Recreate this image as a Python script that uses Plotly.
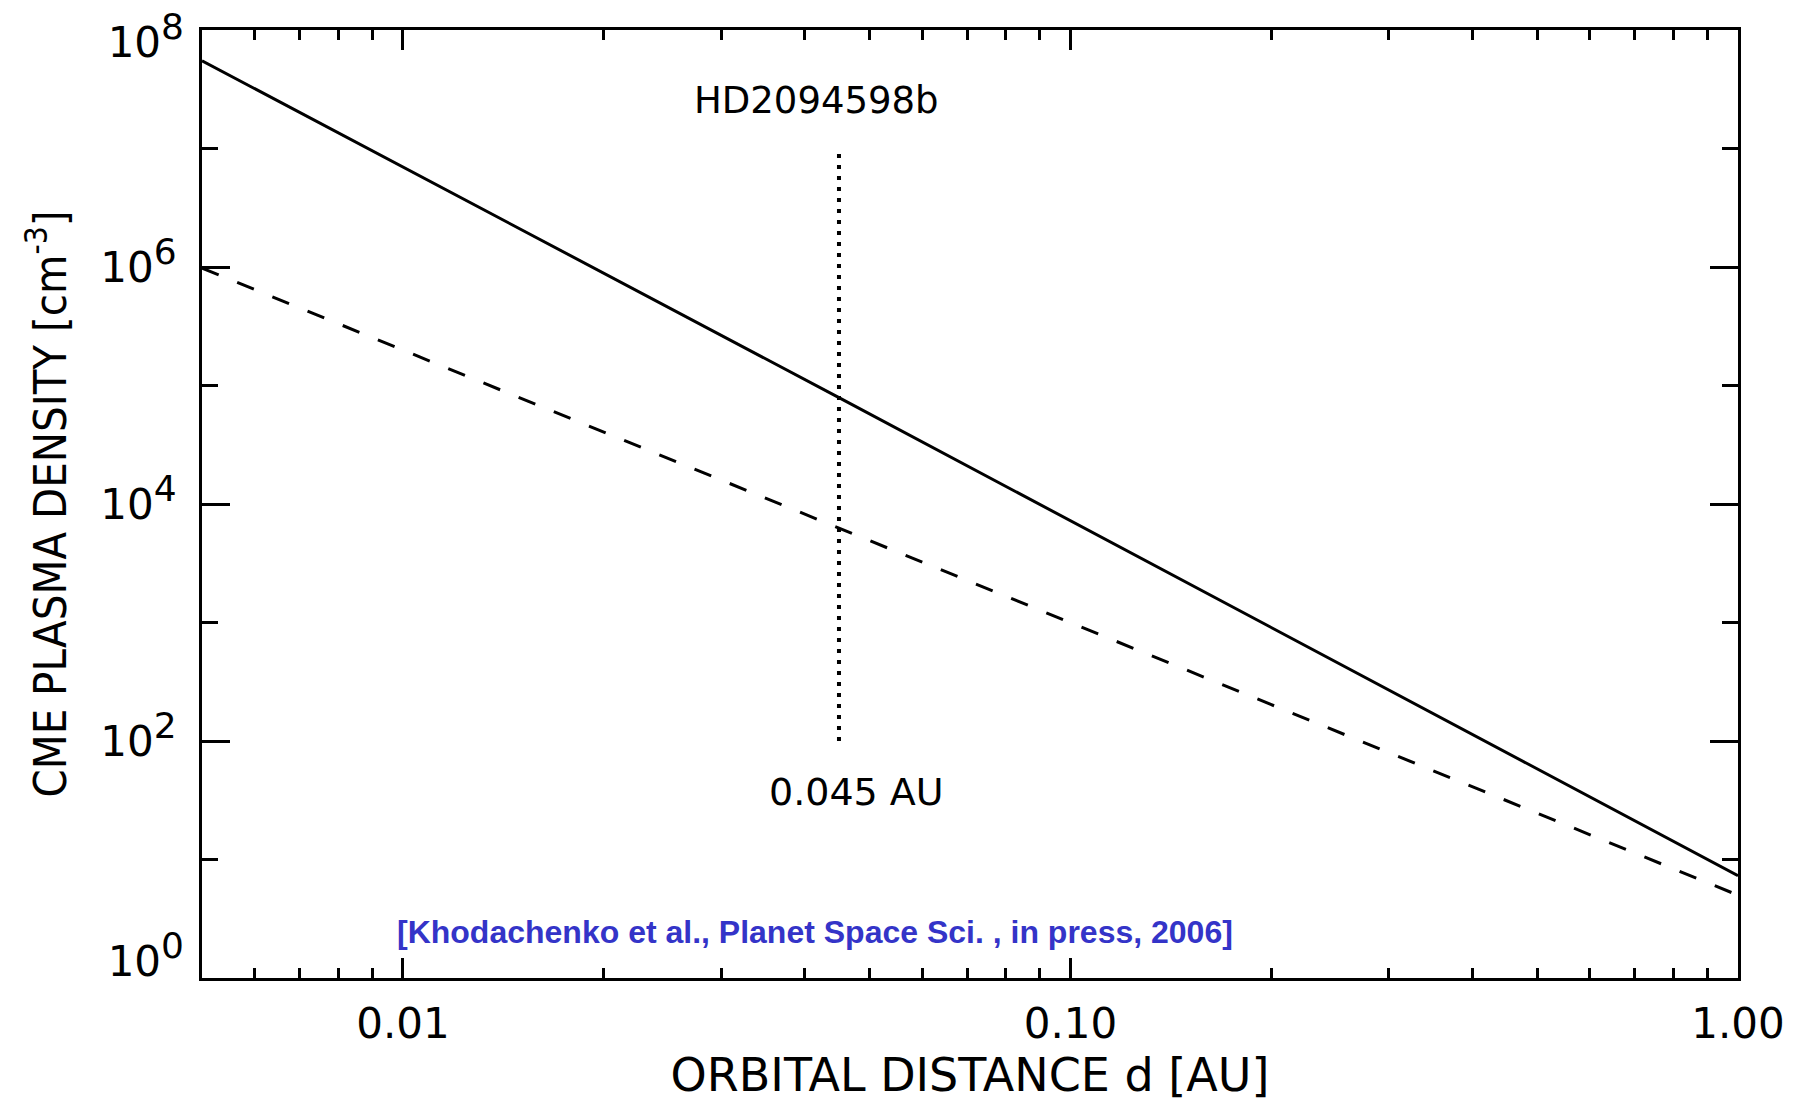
import numpy as np
import plotly.graph_objects as go

# ---- data ----
dist_solid = [0.005, 0.045, 1.0]
dens_solid = [5.5e7, 7.9e4, 7.3]
dist_dashed = [0.005, 0.045, 1.0]
dens_dashed = [9.8e5, 6.3e3, 5.0]
planet_dist = [0.045, 0.045]
planet_dens = [1e2, 1e7]

x_tickvals = [0.01, 0.1, 1.0]
x_ticktext = ["0.01", "0.10", "1.00"]
x_minor = [0.006, 0.007, 0.008, 0.009,
           0.02, 0.03, 0.04, 0.05, 0.06, 0.07, 0.08, 0.09,
           0.2, 0.3, 0.4, 0.5, 0.6, 0.7, 0.8, 0.9]
y_tickvals_mid = [1e2, 1e4, 1e6]
y_exps_mid = [2, 4, 6]
y_tickval_top, y_exp_top = 1e8, 8
y_tickval_bot, y_exp_bot = 1e0, 0
y_minor = [1e1, 1e3, 1e5, 1e7]


def pow_label(e):
    return "10<sup><span style='font-size:36px'>%d</span></sup>" % e


fig = go.Figure()
fig.add_trace(go.Scatter(x=dist_solid, y=dens_solid, mode="lines",
                         line=dict(color="black", width=3), showlegend=False))
fig.add_trace(go.Scatter(x=dist_dashed, y=dens_dashed, mode="lines",
                         line=dict(color="black", width=3, dash="18px,20px"), showlegend=False))
fig.add_trace(go.Scatter(x=planet_dist, y=planet_dens, mode="lines",
                         line=dict(color="black", width=4, dash="4px,7px"), showlegend=False))
# empty traces that attach the label-only overlay axes
fig.add_trace(go.Scatter(x=[], y=[], yaxis="y2", showlegend=False, hoverinfo="skip"))
fig.add_trace(go.Scatter(x=[], y=[], yaxis="y3", showlegend=False, hoverinfo="skip"))

tickfont = dict(family="DejaVu Sans", size=42, color="black")

overlay_common = dict(
    type="log", range=[0, 8], overlaying="y", side="left",
    showgrid=False, zeroline=False, showline=False, ticks="",
    tickmode="array", tickfont=tickfont, ticklabelstandoff=17,
    ticklabeloverflow="allow", automargin=False,
)

fig.update_layout(
    width=1810, height=1106,
    margin=dict(l=202, r=72, t=30, b=128, autoexpand=False),
    paper_bgcolor="white", plot_bgcolor="white",
    xaxis=dict(
        type="log", range=[np.log10(0.005), 0],
        showgrid=False, zeroline=False,
        showline=True, linecolor="black", linewidth=3, mirror="ticks",
        ticks="inside", ticklen=20, tickwidth=3, tickcolor="black",
        tickmode="array", tickvals=x_tickvals, ticktext=x_ticktext,
        tickfont=tickfont, ticklabelstandoff=7, ticklabeloverflow="allow",
        minor=dict(tickmode="array", tickvals=x_minor, ticks="inside",
                   ticklen=10, tickwidth=2.5, tickcolor="black", showgrid=False),
        title=dict(text="ORBITAL DISTANCE d [AU]",
                   font=dict(family="DejaVu Sans", size=46, color="black"),
                   standoff=10),
        automargin=False,
    ),
    yaxis=dict(
        type="log", range=[0, 8],
        showgrid=False, zeroline=False,
        showline=True, linecolor="black", linewidth=3, mirror="ticks",
        ticks="inside", ticklen=28, tickwidth=3, tickcolor="black",
        tickmode="array", tickvals=y_tickvals_mid,
        ticktext=[pow_label(e) for e in y_exps_mid],
        tickfont=tickfont, ticklabelstandoff=14, ticklabeloverflow="allow",
        minor=dict(tickmode="array", tickvals=y_minor, ticks="inside",
                   ticklen=16, tickwidth=3, tickcolor="black", showgrid=False),
        title=dict(text="CME PLASMA DENSITY [cm<sup>-3</sup>]",
                   font=dict(family="Liberation Sans Narrow, DejaVu Sans Condensed, Arial Narrow, sans-serif",
                             size=45, color="black"),
                   standoff=20),
        automargin=False,
    ),
    yaxis2=dict(overlay_common, tickvals=[y_tickval_top],
                ticktext=[pow_label(y_exp_top)], ticklabelshift=12),
    yaxis3=dict(overlay_common, tickvals=[y_tickval_bot],
                ticktext=[pow_label(y_exp_bot)], ticklabelshift=-17),
    annotations=[
        dict(text="HD2094598b", xref="x", yref="paper",
             x=np.log10(0.045), y=0.926, xshift=-22,
             showarrow=False, xanchor="center", yanchor="middle",
             font=dict(family="DejaVu Sans", size=37, color="black")),
        dict(text="0.045 AU", xref="x", yref="paper",
             x=np.log10(0.045), y=0.196, xshift=18,
             showarrow=False, xanchor="center", yanchor="middle",
             font=dict(family="DejaVu Sans", size=38, color="black")),
        dict(text="<b>[Khodachenko et al., Planet Space Sci. , in press, 2006]</b>",
             xref="paper", yref="paper", x=0.1257, y=0.0485,
             showarrow=False, xanchor="left", yanchor="middle",
             font=dict(family="Liberation Sans, Arial, sans-serif", size=32, color="#3434C8")),
    ],
)

fig.write_html("out.html")
